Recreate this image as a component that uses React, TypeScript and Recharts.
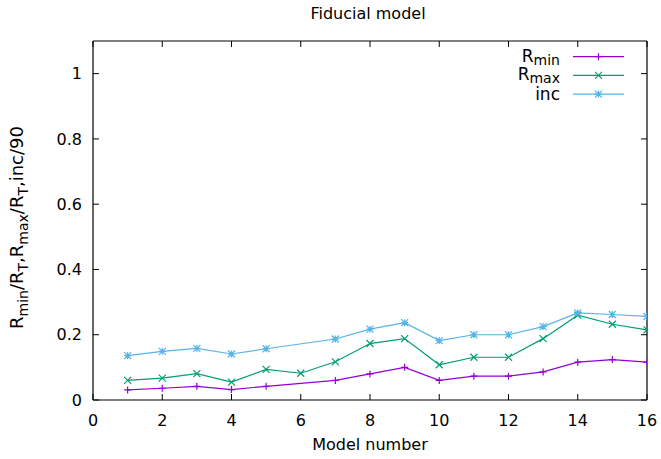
import React from 'react'
import { Label, Legend, Line, LineChart, XAxis, YAxis } from 'recharts'

// values
const models = [1, 2, 3, 4, 5, 6, 7, 8, 9, 10, 11, 12, 13, 14, 15, 16]
const rMin = [0.031, 0.036, 0.042, 0.032, 0.042, null, 0.06, 0.08, 0.1, 0.06, 0.073, 0.073, 0.086, 0.116, 0.124, 0.116]
const rMax = [0.06, 0.067, 0.081, 0.055, 0.094, 0.082, 0.117, 0.173, 0.188, 0.108, 0.131, 0.131, 0.188, 0.26, 0.232, 0.215]
const incNorm = [0.136, 0.149, 0.158, 0.141, 0.157, null, 0.187, 0.217, 0.237, 0.182, 0.2, 0.2, 0.225, 0.267, 0.262, 0.256]

const xTicks = [0, 2, 4, 6, 8, 10, 12, 14, 16]
const yTicks = [0, 0.2, 0.4, 0.6, 0.8, 1]

const FONT = '"DejaVu Sans", sans-serif'

const series = [
  { key: 'rMin', color: '#9400d3', shape: 'plus', main: 'R', sub: 'min' },
  { key: 'rMax', color: '#009e73', shape: 'cross', main: 'R', sub: 'max' },
  { key: 'inc', color: '#56b4e9', shape: 'star', main: 'inc', sub: '' }
]

const data = models.map((m, i) => ({ model: m, rMin: rMin[i], rMax: rMax[i], inc: incNorm[i] }))

function Marker({ x, y, color, shape }: { x: number; y: number; color: string; shape: string }) {
  const s = 3.5
  const plus = `M${x - s},${y}H${x + s}M${x},${y - s}V${y + s}`
  const cross = `M${x - s},${y - s}L${x + s},${y + s}M${x - s},${y + s}L${x + s},${y - s}`
  const d = shape === 'plus' ? plus : shape === 'cross' ? cross : plus + cross
  return <path d={d} stroke={color} strokeWidth={1.2} fill="none" />
}

function LegendBox() {
  return (
    <svg width={170} height={64} style={{ display: 'block' }}>
      {series.map((s, i) => {
        const y = 12.7 + i * 18.7
        return (
          <g key={s.key}>
            <text x={90} y={y + (s.sub ? 5 : 6)} textAnchor="end" fontFamily={FONT} fontSize={17} fill="#000">
              {s.main}
              {s.sub && (
                <tspan dy={3} fontSize={14}>
                  {s.sub}
                </tspan>
              )}
            </text>
            <line x1={103} x2={154} y1={y} y2={y} stroke={s.color} strokeWidth={1.2} />
            <Marker x={128.5} y={y} color={s.color} shape={s.shape} />
          </g>
        )
      })}
    </svg>
  )
}

function YLabel(props: any) {
  const vb = props.viewBox
  const x = vb.x + 23
  const cy = vb.y + vb.height / 2 + 7
  return (
    <text
      x={x}
      y={cy}
      transform={`rotate(-90, ${x}, ${cy})`}
      textAnchor="middle"
      fontFamily={FONT}
      fontSize={18}
      fill="#000"
    >
      R<tspan dy={5} fontSize={14}>min</tspan>
      <tspan dy={-5}>/R</tspan>
      <tspan dy={5} fontSize={14}>T</tspan>
      <tspan dy={-5}>,R</tspan>
      <tspan dy={5} fontSize={14}>max</tspan>
      <tspan dy={-5}>/R</tspan>
      <tspan dy={5} fontSize={14}>T</tspan>
      <tspan dy={-5}>,inc/90</tspan>
    </text>
  )
}

function XLabel(props: any) {
  const vb = props.viewBox
  return (
    <text x={vb.x + vb.width / 2} y={vb.y + 50} textAnchor="middle" fontFamily={FONT} fontSize={16} fill="#000">
      Model number
    </text>
  )
}

function Title(props: any) {
  const vb = props.viewBox
  return (
    <text x={vb.x + vb.width / 2 - 2} y={vb.y - 21} textAnchor="middle" fontFamily={FONT} fontSize={16} fill="#000">
      Fiducial model
    </text>
  )
}

const tickStyle = { fill: '#000', fontSize: 16, fontFamily: FONT }
const axisLine = { stroke: '#000', strokeWidth: 1.2 }

export default function App() {
  return (
    <div style={{ position: 'absolute', left: 0, top: 0, background: '#fff' }}>
      <LineChart width={661} height={459} data={data} margin={{ top: 40, right: 13, bottom: 29, left: 0 }}>
        <XAxis
          xAxisId="bottom"
          dataKey="model"
          type="number"
          domain={[0, 16]}
          ticks={xTicks}
          allowDataOverflow
          height={30}
          tickSize={-6}
          tickMargin={21}
          tick={tickStyle}
          axisLine={axisLine}
          tickLine={{ stroke: '#000' }}
        >
          <Label content={XLabel} />
        </XAxis>
        <XAxis
          xAxisId="top"
          orientation="top"
          dataKey="model"
          type="number"
          domain={[0, 16]}
          ticks={xTicks}
          allowDataOverflow
          height={1}
          tickSize={-6}
          tickFormatter={() => ''}
          axisLine={axisLine}
          tickLine={{ stroke: '#000' }}
        >
          <Label content={Title} />
        </XAxis>
        <YAxis
          yAxisId="left"
          type="number"
          domain={[0, 1.1]}
          ticks={yTicks}
          allowDataOverflow
          width={93}
          tickSize={-6}
          tickMargin={17}
          tick={tickStyle}
          tickFormatter={(v) => String(v)}
          axisLine={axisLine}
          tickLine={{ stroke: '#000' }}
        >
          <Label content={YLabel} />
        </YAxis>
        <YAxis
          yAxisId="right"
          orientation="right"
          type="number"
          domain={[0, 1.1]}
          ticks={yTicks}
          allowDataOverflow
          width={1}
          tickSize={-6}
          tickFormatter={() => ''}
          axisLine={axisLine}
          tickLine={{ stroke: '#000' }}
        />
        <Legend
          layout="vertical"
          align="center"
          verticalAlign="middle"
          content={() => <LegendBox />}
          wrapperStyle={{ position: 'absolute', top: 44, left: 470, width: 170, height: 64 }}
        />
        {series.map((s) => (
          <Line
            key={s.key}
            xAxisId="bottom"
            yAxisId="left"
            dataKey={s.key}
            stroke={s.color}
            strokeWidth={1.2}
            type="linear"
            connectNulls
            isAnimationActive={false}
            dot={(p: any) =>
              p.cx == null || p.cy == null || p.value == null ? (
                <g key={p.index} />
              ) : (
                <Marker key={p.index} x={p.cx} y={p.cy} color={s.color} shape={s.shape} />
              )
            }
            activeDot={false}
          />
        ))}
      </LineChart>
    </div>
  )
}
